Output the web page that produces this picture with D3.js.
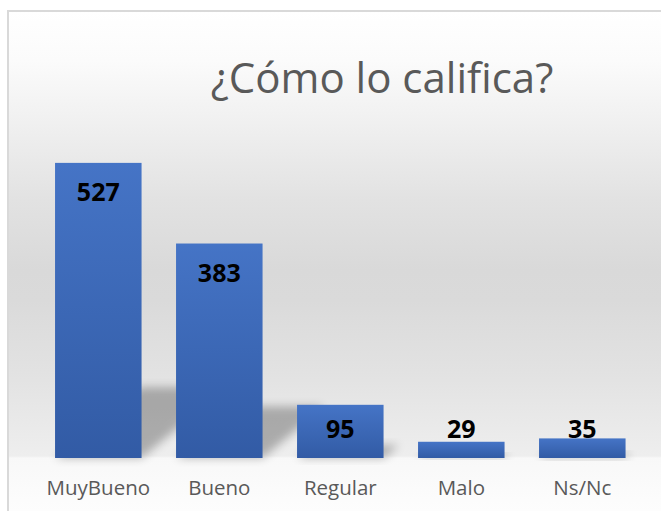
<!DOCTYPE html>
<html>
<head>
<meta charset="utf-8">
<script src="https://cdn.jsdelivr.net/npm/d3@7"></script>
<style>
  html, body { margin: 0; padding: 0; background: #ffffff; }
  svg { display: block; }
</style>
</head>
<body>
<div id="chart"></div>
<script>
// Chart data
const title = "¿Cómo lo califica?";
const categories = ["MuyBueno", "Bueno", "Regular", "Malo", "Ns/Nc"];
const values = [527, 383, 95, 29, 35];

const width = 661,
  height = 511;

const svg = d3
  .select("#chart")
  .append("svg")
  .attr("width", width)
  .attr("height", height);

const defs = svg.append("defs");

// Background gradient (white at top, gray in middle, near white under the axis)
const bgStops = [
  [11, "#ffffff"],
  [60, "#fbfbfb"],
  [100, "#f4f4f4"],
  [200, "#e2e2e2"],
  [270, "#d9d9d9"],
  [300, "#dadada"],
  [380, "#e3e3e3"],
  [456, "#eeeeee"],
  [458, "#f8f8f8"],
  [511, "#fdfdfd"],
];
const bg = defs
  .append("linearGradient")
  .attr("id", "bg")
  .attr("gradientUnits", "userSpaceOnUse")
  .attr("x1", 0)
  .attr("x2", 0)
  .attr("y1", 11)
  .attr("y2", 511);
bg.selectAll("stop")
  .data(bgStops)
  .enter()
  .append("stop")
  .attr("offset", (d) => (d[0] - 11) / (511 - 11))
  .attr("stop-color", (d) => d[1]);

// Bar gradient
const barGrad = defs
  .append("linearGradient")
  .attr("id", "barGrad")
  .attr("x1", 0)
  .attr("x2", 0)
  .attr("y1", 0)
  .attr("y2", 1);
barGrad.append("stop").attr("offset", 0).attr("stop-color", "#4574c6");
barGrad.append("stop").attr("offset", 1).attr("stop-color", "#325ba5");

// Blur for the perspective shadows
defs
  .append("filter")
  .attr("id", "blur")
  .attr("x", "-50%")
  .attr("y", "-50%")
  .attr("width", "200%")
  .attr("height", "200%")
  .append("feGaussianBlur")
  .attr("stdDeviation", 5);

// Chart area with border
svg
  .append("rect")
  .attr("x", 8)
  .attr("y", 11)
  .attr("width", 720)
  .attr("height", 560)
  .attr("fill", "url(#bg)")
  .attr("stroke", "#d9d9d9")
  .attr("stroke-width", 2);

// Title
svg
  .append("text")
  .attr("x", 382)
  .attr("y", 93)
  .attr("text-anchor", "middle")
  .attr("font-family", "'Open Sans', 'Noto Sans', sans-serif")
  .attr("font-size", 42)
  .attr("fill", "#595959")
  .text(title);

// Scales
const x = d3
  .scaleBand()
  .domain(categories)
  .range([37.8, 642.8])
  .paddingInner(0.285)
  .paddingOuter(0.1425);

const y = d3.scaleLinear().domain([0, 600]).range([458, 122]);

const data = categories.map((c, i) => ({ cat: c, value: values[i] }));

// Shadows (skewed up-right, shortened)
svg
  .append("g")
  .selectAll("polygon")
  .data(data)
  .enter()
  .append("polygon")
  .attr("points", (d) => {
    const x0 = x(d.cat),
      x1 = x0 + x.bandwidth(),
      yb = y(0),
      hs = (y(0) - y(d.value)) * 0.24,
      dx = hs * 1.2;
    return [
      [x0, yb],
      [x1, yb],
      [x1 + dx, yb - hs],
      [x0 + dx, yb - hs],
    ]
      .map((p) => p.join(","))
      .join(" ");
  })
  .attr("fill", "#000")
  .attr("opacity", 0.27)
  .attr("filter", "url(#blur)");

// Bars
svg
  .append("g")
  .selectAll("rect")
  .data(data)
  .enter()
  .append("rect")
  .attr("x", (d) => x(d.cat))
  .attr("y", (d) => y(d.value))
  .attr("width", x.bandwidth())
  .attr("height", (d) => y(0) - y(d.value))
  .attr("fill", "url(#barGrad)");

// Value labels (inside end, pushed up when bar is too short)
svg
  .append("g")
  .selectAll("text")
  .data(data)
  .enter()
  .append("text")
  .attr("x", (d) => x(d.cat) + x.bandwidth() / 2)
  .attr("y", (d) => Math.min(y(d.value) + 38, y(0) - 20))
  .attr("text-anchor", "middle")
  .attr("font-family", "'Open Sans', 'Noto Sans', sans-serif")
  .attr("font-weight", "bold")
  .attr("font-size", 25)
  .attr("fill", "#000000")
  .text((d) => d.value);

// Category axis
const xAxis = svg
  .append("g")
  .attr("transform", "translate(0," + y(0) + ")")
  .call(d3.axisBottom(x).tickSize(0).tickPadding(0));
xAxis.select(".domain").remove();
xAxis
  .selectAll("text")
  .attr("y", 37)
  .attr("dy", 0)
  .attr("font-family", "'Open Sans', 'Noto Sans', sans-serif")
  .attr("font-size", 20.5)
  .attr("fill", "#595959");
</script>
</body>
</html>
